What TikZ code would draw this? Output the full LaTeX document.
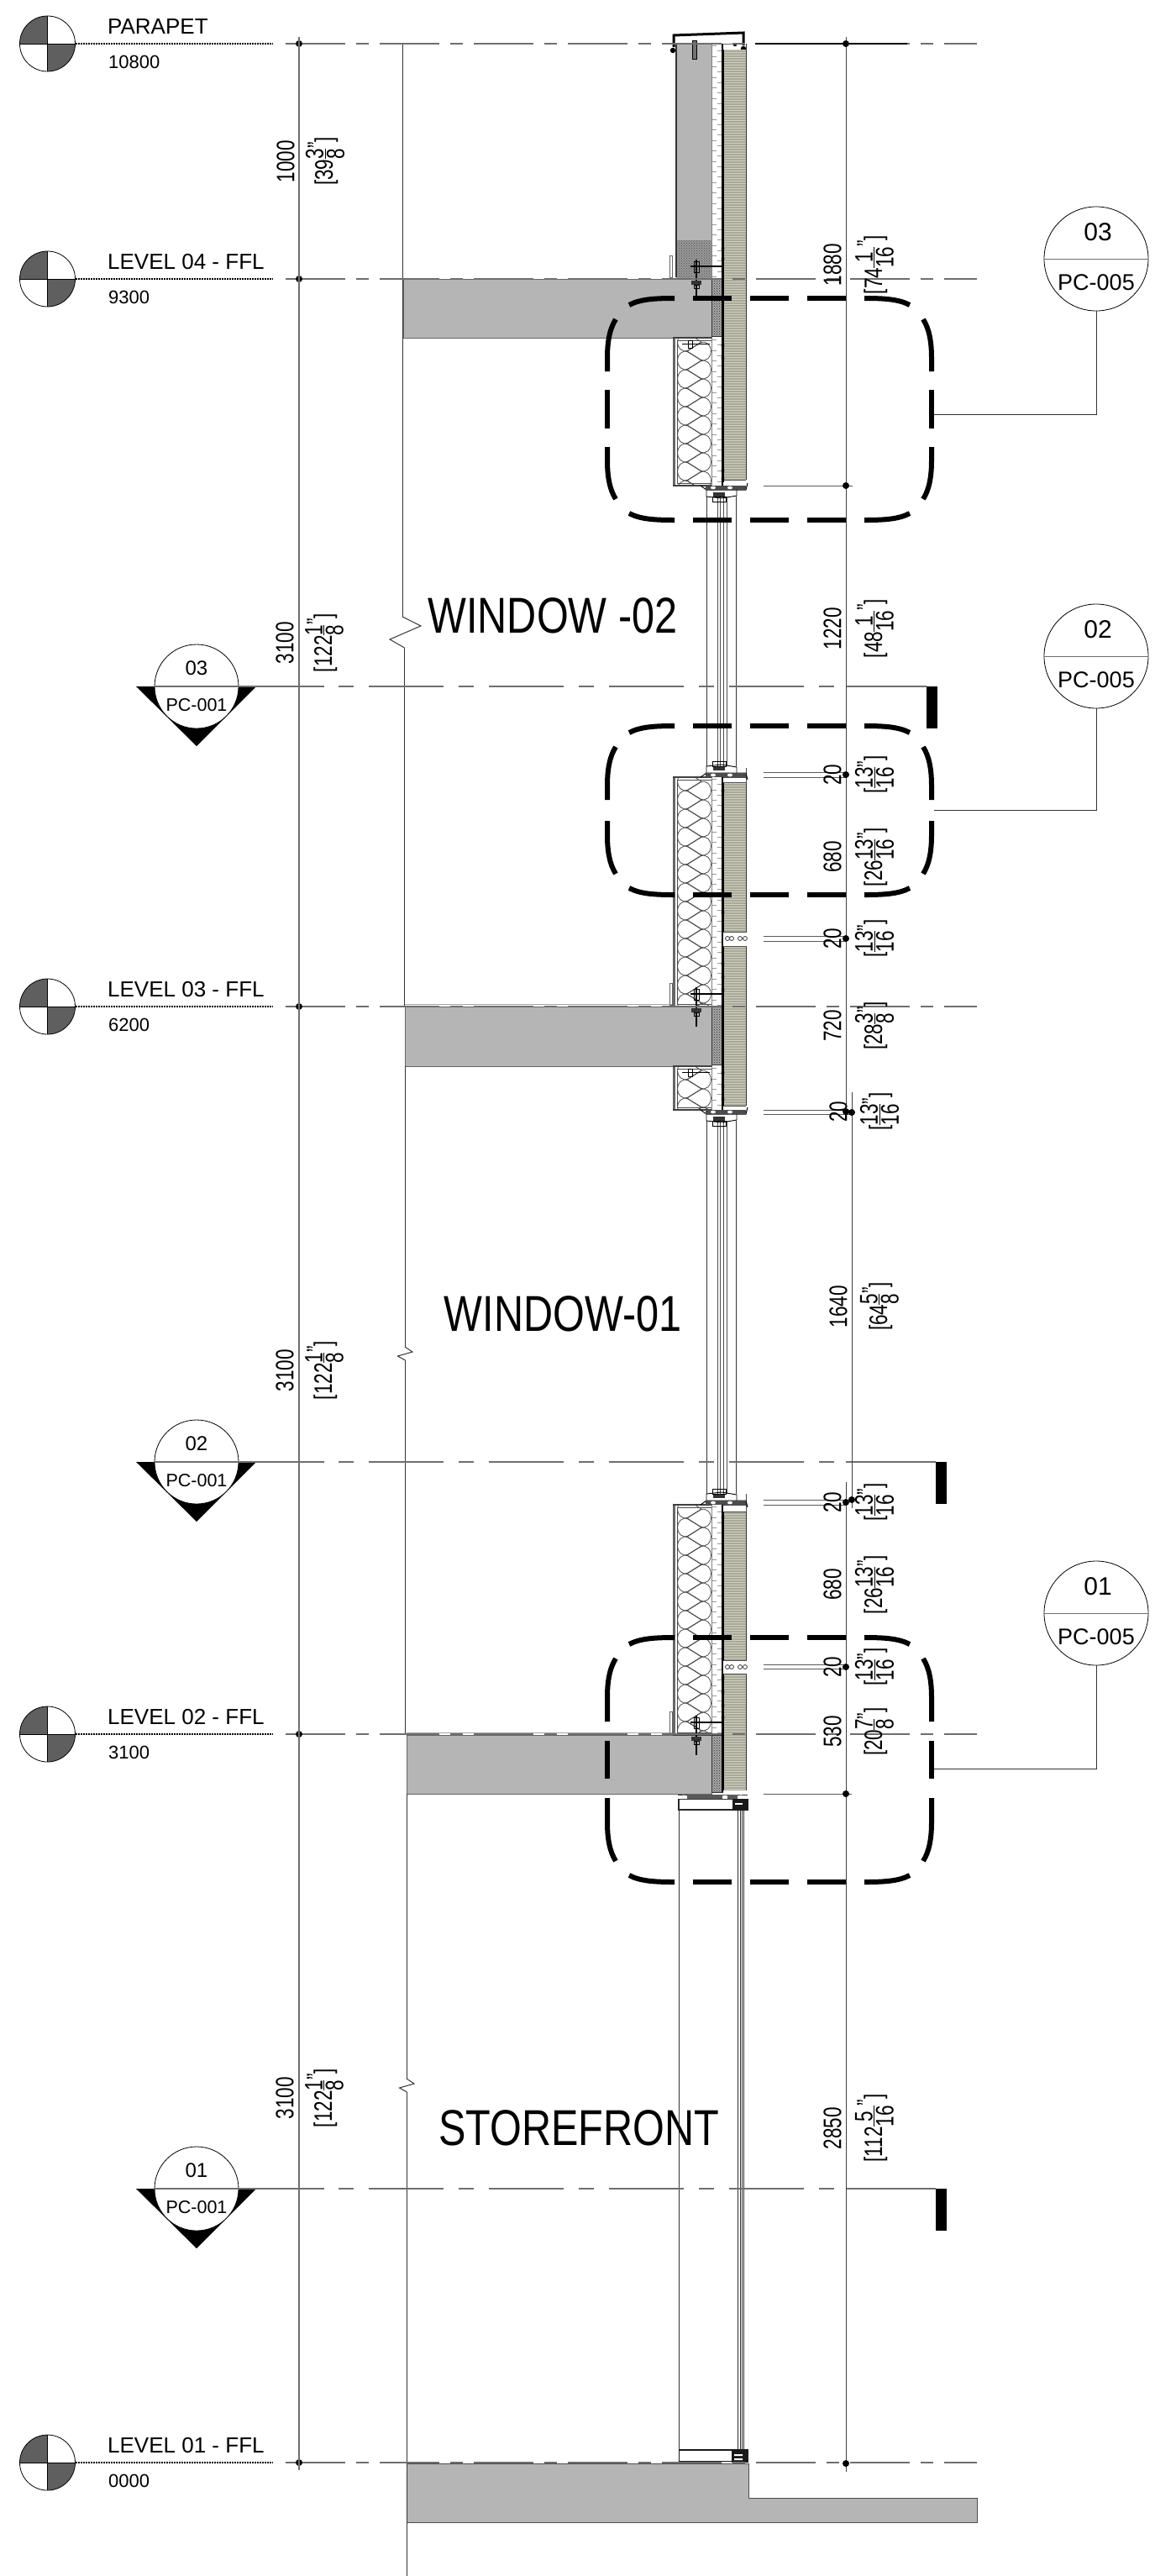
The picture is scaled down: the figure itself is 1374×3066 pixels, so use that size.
\documentclass[tikz,border=0pt]{standalone}
\usepackage{fontspec}
\setmainfont{Liberation Sans}
\usetikzlibrary{patterns}
\definecolor{slabgray}{HTML}{B5B5B5}
\definecolor{paneltone}{HTML}{A9A998}
\definecolor{panelline}{HTML}{CFCFC2}
\definecolor{quadgray}{HTML}{5F5F5F}
\definecolor{linegray}{HTML}{6E6E6E}
\tikzset{
  levelline/.style={linegray,line width=1.1pt,dash pattern=on 71pt off 13pt on 15pt off 13pt},
  leveldots/.style={black,line width=1.1pt,dash pattern=on 1.6pt off 1.4pt},
  sectionline/.style={linegray,line width=1.1pt},
  dimline/.style={black!75,line width=.9pt},
  extline/.style={black!65,line width=.9pt},
  dimdot/.style={circle,fill=black,inner sep=0pt,minimum size=8pt},
  dimtext/.style={rotate=90,xscale=.75,inner sep=0pt,font=\fontsize{30}{32}\selectfont},
  leveltitle/.style={anchor=base west,inner sep=0pt,font=\fontsize{26}{28}\selectfont},
  levelvalue/.style={anchor=base west,inner sep=0pt,font=\fontsize{22}{24}\selectfont},
  zonetitle/.style={inner sep=0pt,xscale=.81,font=\fontsize{60}{62}\selectfont},
  detailline/.style={black,line width=6pt},
  wallline/.style={black!80,line width=1pt},
  battline/.style={black!70,line width=.8pt},
  thinline/.style={black!80,line width=.8pt},
}
\newcommand{\ImpDim}[3]{[#1\raise3pt\hbox{$\vcenter{\offinterlineskip\halign{\hfil##\hfil\cr #2\cr\noalign{\kern1.5pt\hrule height .8pt\kern1.5pt} #3\cr}}$}\raisebox{9pt}{"}]}
% level target with its text and line
\newcommand{\LevelMark}[4]{%
  \fill[quadgray] (56.5,#2) -- (23.5,#2) arc[start angle=180,end angle=270,radius=33] -- cycle;
  \fill[quadgray] (56.5,#2) -- (89.5,#2) arc[start angle=0,end angle=90,radius=33] -- cycle;
  \node[draw,circle,inner sep=0pt,minimum size=66pt,line width=.8pt] (#1mark) at (56.5,#2) {};
  \draw[black,line width=1pt] (#1mark.north) -- (#1mark.south);
  \draw[black,line width=1pt] (#1mark.west) -- (#1mark.east);
  \node[leveltitle] (#1title) at (128,#2-12) {#3};
  \node[levelvalue] (#1value) at (129,#2+29) {#4};
  \coordinate (#1start) at (340,#2);
  \coordinate (#1dotend) at (325,#2);
  \coordinate (#1end) at (1163,#2);
  \draw[leveldots] (#1mark.east) -- (#1dotend);
  \draw[levelline] (#1start) -- (#1end);
}
% section cut bubble with its line and end bar
\newcommand{\SectionMark}[4]{%
  \fill[black] (162,#2) -- (305,#2) -- (234,#2+71) -- cycle;
  \node[draw,circle,fill=white,inner sep=0pt,minimum size=100pt,line width=.8pt] (#1mark) at (234,#2) {};
  \node[inner sep=0pt,font=\fontsize{24}{26}\selectfont] (#1num) at (234,#2-22) {#3};
  \node[inner sep=0pt,font=\fontsize{21.5}{24}\selectfont] (#1sheet) at (234,#2+22) {PC-001};
  \coordinate (#1a) at (386,#2);
  \coordinate (#1b) at (1007,#2);
  \coordinate (#1c) at (#4,#2);
  \draw[sectionline] (#1mark.west) -- (#1mark.east);
  \draw[sectionline] (#1mark.east) -- (#1a);
  \draw[sectionline,dash pattern=on 0pt off 17pt on 18pt off 18pt on 89pt off 1pt] (#1a) -- (#1b);
  \draw[sectionline] (#1b) -- (#1c);
  \fill[black] (#4,#2) rectangle (#4+13,#2+50);
}
% one corner of the detail outline, the two dashes round it
\newcommand{\DetailCorner}[5]{%
  \begin{scope}[shift={(#1,#2)},xscale=#3,yscale=#4]
    \draw[detailline] (80,0) .. controls (57,0) and (39,1) .. (26,8);
    \draw[detailline] (10,25) .. controls (3,36) and (0,51) .. (0,71) -- (0,#5);
  \end{scope}
}
\newcommand{\DetailBox}[3]{%
  \DetailCorner{723}{#1}{1}{1}{#3}
  \DetailCorner{1109}{#1}{-1}{1}{#3}
  \DetailCorner{723}{#2}{1}{-1}{#3}
  \DetailCorner{1109}{#2}{-1}{-1}{#3}
  \foreach \xa/\xb in {825/871,893/939,961/1007} {
    \draw[detailline] (\xa,#1) -- (\xb,#1);
    \draw[detailline] (\xa,#2) -- (\xb,#2);
  }
}
% detail bubble with leader
\newcommand{\DetailMark}[4]{%
  \node[draw,circle,inner sep=0pt,minimum size=124pt,line width=.8pt,fill=white] (#1mark) at (1305,#2) {};
  \draw[linegray,line width=1pt] (#1mark.west) -- (#1mark.east);
  \node[inner sep=0pt,font=\fontsize{30}{32}\selectfont] (#1num) at (1307,#2-32) {#3};
  \node[inner sep=0pt,font=\fontsize{27}{29}\selectfont] (#1sheet) at (1305,#2+28) {PC-005};
  \coordinate (#1lead) at (1112,#4);
  \draw[thinline] (#1lead) -| (#1mark.south);
}
\newcommand{\BattWall}[2]{%
  \begin{scope}
    \clip (806,#1) rectangle (847,#2);
    \foreach \k [evaluate=\k as \yc using #1+27+\k*22] in {-1,...,13} {
      \draw[battline] (835,\yc) -- (819,\yc-10) .. controls (812,\yc-13) and (806.5,\yc-7) .. (806.5,\yc) .. controls (806.5,\yc+7) and (812,\yc+13) .. (819,\yc+10) -- (835,\yc);
      \draw[battline] (818,\yc+11) -- (834,\yc+1) .. controls (841,\yc-2) and (846.5,\yc+4) .. (846.5,\yc+11) .. controls (846.5,\yc+18) and (841,\yc+24) .. (834,\yc+21) -- (818,\yc+11);
    }
  \end{scope}
  \draw[black!60,line width=3pt] (802.5,#1) -- (802.5,#2+1);
  \draw[black!75,line width=1.4pt] (801,#1) -- (847,#1) (801,#2) -- (847,#2);
  \draw[black!70,line width=1pt] (806,#1+3) -- (806,#2-3) (806,#1+3) -- (847,#1+3) (806,#2-3) -- (847,#2-3);
}
\newcommand{\PanelRun}[2]{%
  \fill[paneltone] (861,#1) rectangle (888,#2);
  \fill[pattern=horizontal lines,pattern color=panelline] (861,#1) rectangle (888,#2);
  \draw[black!80,line width=1pt] (888,#1) -- (888,#2);
  \draw[black,line width=1.2pt] (861,#1) -- (861,#2);
}
\newcommand{\BoardRun}[2]{%
  \fill[white] (847,#1) rectangle (860,#2);
  \draw[black!40,line width=5pt,dash pattern=on 1pt off 11.5pt] (850.5,#1+2) -- (850.5,#2);
  \draw[black!40,line width=5pt,dash pattern=on 1pt off 11.5pt] (856.5,#1+8) -- (856.5,#2);
  \draw[black!50,line width=1pt] (847,#1) -- (847,#2);
}
\newcommand{\DotStrip}[2]{%
  \fill[black!35] (847,#1) rectangle (860,#2);
  \fill[pattern=crosshatch dots,pattern color=black!85] (847,#1) rectangle (860,#2);
  \draw[black!80,line width=1pt] (847,#1) rectangle (860,#2);
}
\newcommand{\PanelJoint}[2]{%
  \fill[white] (861,#1) rectangle (889,#2);
  \draw[black!70,line width=.8pt] (861,#1) -- (889,#1) (861,#2) -- (889,#2);
  \foreach \xx in {866,871,881,887} \draw[black!80,line width=.8pt] (\xx,#1+8) circle (2.5);
}
\newcommand{\SlabAnchor}[1]{%
  \draw[black!60,line width=.8pt] (797,#1-28) rectangle (800,#1-2);
  \draw[black,line width=1.1pt] (822,#1-15) -- (860,#1-15);
  \draw[black,line width=1.6pt] (829,#1-23) -- (829,#1+24);
  \draw[black,line width=.8pt] (826,#1-21) rectangle (832,#1-8);
  \fill[black!80] (823,#1+2) rectangle (835,#1+7);
  \draw[black,line width=1pt] (826,#1+7) rectangle (832,#1+11);
}
\newcommand{\WindowRun}[2]{%
  \draw[thinline] (841,#1) -- (841,#2) (876,#1) -- (876,#2);
  \draw[black!70,line width=1pt] (854,#1) -- (854,#2) (857,#1) -- (857,#2) (861,#1) -- (861,#2) (865,#1) -- (865,#2);
}
\newcommand{\WindowEnd}[2]{%
  \begin{scope}[shift={(0,#1)},yscale=#2]
    \fill[white] (836,-5) rectangle (880,-13);
    \draw[black,line width=1pt] (834,0) -- (841,-5) -- (877,-5) -- (888,-5) -- (890,3);
    \draw[black,line width=.9pt] (841,-5) -- (841,-13) -- (859,-15) -- (877,-12) -- (877,-5);
    \fill[black!70] (840,0) rectangle (888,-5);
    \fill[black!80] (849,-8) rectangle (863,-13);
    \draw[black,line width=.9pt] (848,-19) rectangle (864,-13);
    \foreach \xx in {849,869} \fill[white] (\xx,-2.5) ellipse (3 and 1.8);
  \end{scope}
}
\newcommand{\WallBreak}[2]{%
  \draw[wallline] (#1,#2) -- (#1+9,#2+6) -- (#1-8.5,#2+11) -- (#1+.5,#2+16);
}

\begin{document}
\begin{tikzpicture}[x=1pt,y=-1pt]
  \useasboundingbox (0,0) rectangle (1374,3066);
  % slabs and wall lines
  \fill[slabgray] (805,52) rectangle (847,332);
  \fill[black!40] (805,286) rectangle (847,332);
  \fill[pattern=crosshatch dots,pattern color=black!70] (805,286) rectangle (847,332);
  \draw[black!80,line width=1.2pt] (805,52) -- (805,330);
  \filldraw[fill=slabgray,draw=black!60,line width=1pt] (480,332) rectangle (847,402);
  \filldraw[fill=slabgray,draw=black!60,line width=1pt] (482,1198) rectangle (847,1269);
  \filldraw[fill=slabgray,draw=black!60,line width=1pt] (484,2065) rectangle (847,2135);
  \filldraw[fill=slabgray,draw=black!70,line width=1pt] (484,2932) -- (891,2932) -- (891,2973) -- (1163,2973) -- (1163,3002) -- (484,3002) -- cycle;
  \draw[black!35,line width=1pt] (482,1195) -- (801,1195) (484,2062) -- (801,2062);
  \draw[wallline] (479,52) -- (479,734);
  \draw[wallline] (479,734) -- (501,745) -- (464,761) -- (481.5,771);
  \draw[wallline] (481.5,771) -- (481.5,1198);
  \draw[wallline] (482,1269) -- (482,1603);
  \WallBreak{482}{1603}
  \draw[wallline] (482.5,1619) -- (482.5,2065);
  \draw[wallline] (484,2135) -- (484,2474);
  \WallBreak{484}{2474}
  \draw[wallline] (484.5,2490) -- (484.5,3066);
  % parapet cap
  \draw[black,line width=3pt] (802,56) -- (802,42) -- (885,39) -- (885,54);
  \draw[black!60,line width=.8pt] (805,52) -- (886,52);
  \filldraw[fill=black!55,draw=black,line width=.8pt] (824.5,48) rectangle (829.5,70);
  \fill[black] (801,60) circle (3.2) (885,58) circle (3.2) (875,53) circle (2.2);
  % wall build up
  \BattWall{402}{578}
  \BattWall{925}{1198}
  \BattWall{1269}{1321}
  \BattWall{1791}{2065}
  \BoardRun{52}{332}
  \BoardRun{402}{578}
  \BoardRun{925}{1198}
  \BoardRun{1269}{1321}
  \BoardRun{1791}{2065}
  \DotStrip{332}{400}
  \DotStrip{1198}{1267}
  \DotStrip{2065}{2133}
  \draw[black,line width=1.2pt] (860,52) -- (860,578);
  \draw[black,line width=1.2pt] (860,925) -- (860,1321) (860,1791) -- (860,2133);
  \PanelRun{59}{571}
  \PanelRun{931}{1109}
  \PanelRun{1126}{1316}
  \PanelRun{1799}{1976}
  \PanelRun{1992}{2131}
  \draw[black!80,line width=1pt] (888,52) -- (888,59);
  \PanelJoint{1109}{1126}
  \PanelJoint{1976}{1992}
  \draw[black!70,line width=.8pt] (888,914) -- (888,932) (861,925) -- (890,925) (861,931) -- (888,931);
  \draw[black!70,line width=.8pt] (888,1778) -- (888,1800) (861,1791) -- (890,1791) (861,1799) -- (888,1799);
  \draw[black!70,line width=.8pt] (861,571) -- (888,571);
  \draw[black!70,line width=.8pt] (861,1316) -- (888,1316);
  \foreach \yy in {296,308,411,426,560,570,941,1086,1147,1163,1178,1277,1293,1308,1806,1951,1997,2014,2030,2044} {
    \fill[black] (860.5,\yy) ellipse (1.8 and 5);
  }
  \SlabAnchor{332}
  \SlabAnchor{1198}
  \SlabAnchor{2065}
  \draw[black,line width=.9pt] (812,409) -- (845,409) (812,1276) -- (845,1276);
  \draw[black,line width=.8pt] (819,405) rectangle (824,414) (819,1272) rectangle (824,1281);
  % windows
  \WindowRun{578}{925}
  \WindowRun{1326}{1785}
  \WindowEnd{925}{1}
  \WindowEnd{1791}{1}
  \WindowEnd{578}{-1}
  \WindowEnd{1321}{-1}
  % storefront
  \draw[thinline] (808,2154) -- (808,2916);
  \draw[black!80,line width=1pt] (878,2150) -- (878,2916) (881.5,2150) -- (881.5,2916) (883.5,2150) -- (883.5,2916) (885.5,2150) -- (885.5,2916);
  \draw[black!80,line width=1pt] (807,2136) -- (890,2136) (808,2141) -- (890,2141);
  \draw[black!85,line width=1.2pt] (808,2141) -- (808,2154) -- (872,2154);
  \fill[black!65] (818,2136) rectangle (860,2141) (866,2136) rectangle (878,2141);
  \fill[white] (814,2138.5) ellipse (3 and 2) (863,2138.5) ellipse (3 and 2) (882,2138.5) ellipse (3 and 2);
  \fill[black!90] (872,2141) rectangle (891,2155);
  \fill[white] (875,2146) rectangle (884,2148);
  \draw[black!90,line width=1.8pt] (808,2916) -- (891,2916);
  \draw[black!90,line width=1pt] (808,2916) rectangle (872,2929);
  \fill[black!90] (871,2917) rectangle (891,2931);
  \fill[white] (874,2921) rectangle (884,2923) (874,2926) rectangle (884,2928);
  % level lines
  \LevelMark{parapet}{52}{PARAPET}{10800}
  \LevelMark{levelfour}{332}{LEVEL 04 - FFL}{9300}
  \LevelMark{levelthree}{1198}{LEVEL 03 - FFL}{6200}
  \LevelMark{leveltwo}{2064}{LEVEL 02 - FFL}{3100}
  \LevelMark{levelone}{2931}{LEVEL 01 - FFL}{0000}
  \draw[black,line width=1.1pt] (899,52) -- (1080,52);
  % section cuts
  \SectionMark{cutthree}{817}{03}{1103}
  \SectionMark{cuttwo}{1740}{02}{1114}
  \SectionMark{cutone}{2605}{01}{1114}
  % left dimension chain
  \node[dimdot] (lp) at (356,52) {};
  \node[dimdot] (lf) at (356,332) {};
  \node[dimdot] (lt) at (356,1198) {};
  \node[dimdot] (ls) at (356,2064) {};
  \node[dimdot] (lo) at (356,2931) {};
  \coordinate (ltop) at (356,44);
  \coordinate (lbot) at (356,2940);
  \draw[linegray,line width=1.2pt] (ltop) -- (lbot);
  \node[dimtext] (d1000) at (340,192) {1000};
  \node[dimtext] (i1000) at (387,192) {\ImpDim{39}{3}{8}};
  \node[dimtext] (d3100a) at (339,765) {3100};
  \node[dimtext] (i3100a) at (386,765) {\ImpDim{122}{1}{8}};
  \node[dimtext] (d3100b) at (339,1631) {3100};
  \node[dimtext] (i3100b) at (386,1631) {\ImpDim{122}{1}{8}};
  \node[dimtext] (d3100c) at (339,2497) {3100};
  \node[dimtext] (i3100c) at (386,2497) {\ImpDim{122}{1}{8}};
  % right dimension chain
  \coordinate (rtop) at (1007,44);
  \coordinate (rmida) at (1007,1331);
  \coordinate (rmidb) at (1007,1764);
  \coordinate (rbot) at (1007,2942);
  \coordinate (stop) at (1014,1300);
  \coordinate (sbot) at (1014,1795);
  \draw[dimline] (rtop) -- (rmida);
  \draw[dimline] (rmidb) -- (rbot);
  \draw[dimline] (stop) -- (sbot);
  \foreach \ya/\xb in {578/1015,919/1007,925/1007,1114/1007,1120/1007,1321/1014,1326/1014,1785/1014,1791/1007,1981/1007,1986/1007,2135/1014} {
    \draw[extline] (909,\ya) -- (\xb,\ya);
  }
  \node[dimdot] (rp) at (1007,52) {};
  \node[dimdot] (ra) at (1007,578) {};
  \node[dimdot] (rb) at (1007,922) {};
  \node[dimdot] (rc) at (1007,1117) {};
  \node[dimdot] (rd) at (1007,1323) {};
  \node[dimdot] (re) at (1014,1324) {};
  \node[dimdot] (rf) at (1014,1785) {};
  \node[dimdot] (rg) at (1007,1788) {};
  \node[dimdot] (rh) at (1007,1984) {};
  \node[dimdot] (ri) at (1007,2135) {};
  \node[dimdot] (rj) at (1007,2932) {};
  \node[dimtext] (d1880) at (991,315) {1880};
  \node[dimtext] (i1880) at (1041,315) {\ImpDim{74}{1}{16}};
  \node[dimtext] (d1220) at (991,748) {1220};
  \node[dimtext] (i1220) at (1041,748) {\ImpDim{48}{1}{16}};
  \node[dimtext] (d20a) at (991,922) {20};
  \node[dimtext] (i20a) at (1041,922) {\ImpDim{}{13}{16}};
  \node[dimtext] (d680a) at (991,1020) {680};
  \node[dimtext] (i680a) at (1041,1020) {\ImpDim{26}{13}{16}};
  \node[dimtext] (d20b) at (991,1117) {20};
  \node[dimtext] (i20b) at (1041,1117) {\ImpDim{}{13}{16}};
  \node[dimtext] (d720) at (991,1221) {720};
  \node[dimtext] (i720) at (1041,1221) {\ImpDim{28}{3}{8}};
  \node[dimtext] (d20c) at (998,1323) {20};
  \node[dimtext] (i20c) at (1047,1323) {\ImpDim{}{13}{16}};
  \node[dimtext] (d1640) at (998,1555) {1640};
  \node[dimtext] (i1640) at (1047,1555) {\ImpDim{64}{5}{8}};
  \node[dimtext] (d20d) at (991,1788) {20};
  \node[dimtext] (i20d) at (1041,1788) {\ImpDim{}{13}{16}};
  \node[dimtext] (d680b) at (991,1886) {680};
  \node[dimtext] (i680b) at (1041,1886) {\ImpDim{26}{13}{16}};
  \node[dimtext] (d20e) at (991,1984) {20};
  \node[dimtext] (i20e) at (1041,1984) {\ImpDim{}{13}{16}};
  \node[dimtext] (d530) at (991,2061) {530};
  \node[dimtext] (i530) at (1041,2061) {\ImpDim{20}{7}{8}};
  \node[dimtext] (d2850) at (991,2533) {2850};
  \node[dimtext] (i2850) at (1041,2533) {\ImpDim{112}{5}{16}};
  % detail outlines
  \DetailBox{355}{619}{87}
  \draw[detailline] (723,464) -- (723,510) (1109,464) -- (1109,510);
  \DetailBox{864}{1065}{88}
  \DetailBox{1949}{2240}{100}
  \draw[detailline] (723,2072) -- (723,2117) (1109,2072) -- (1109,2117);
  \DetailMark{detailthree}{308}{03}{493}
  \DetailMark{detailtwo}{781}{02}{964}
  \DetailMark{detailone}{1920}{01}{2105}
  % zone names
  \node[zonetitle] (winb) at (658,733) {WINDOW -02};
  \node[zonetitle] (wina) at (670,1564) {WINDOW-01};
  \node[zonetitle] (store) at (689,2533) {STOREFRONT};
\end{tikzpicture}
\end{document}
